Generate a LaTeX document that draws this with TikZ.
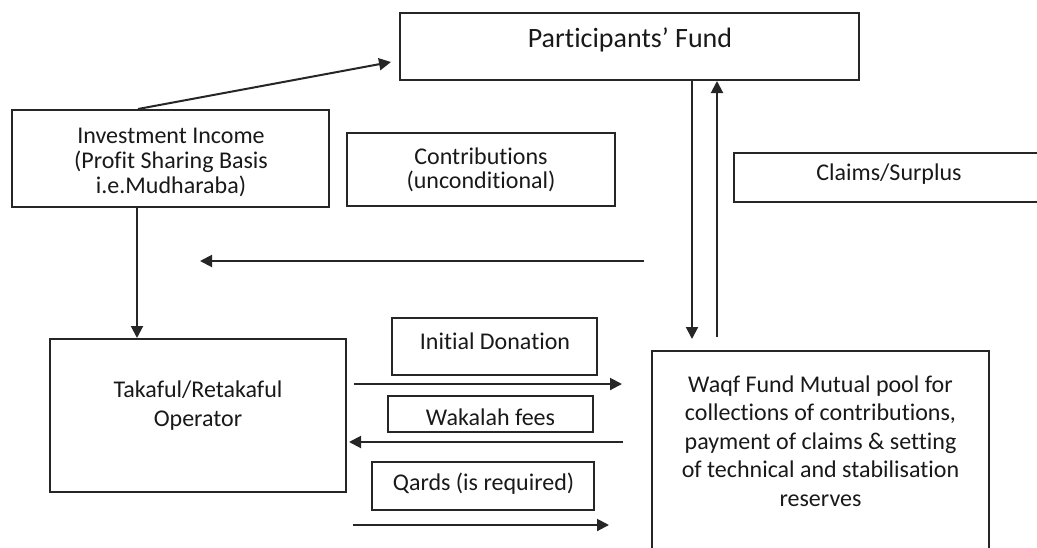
\documentclass[tikz,border=0pt]{standalone}
\usepackage{fontspec}
\setmainfont{Carlito}[Ligatures={NoCommon}]
\usetikzlibrary{arrows.meta,calc}
\begin{document}
\begin{tikzpicture}[x=1pt,y=-1pt,
  box/.style={draw=black!85, line width=2pt, rectangle, inner sep=0pt},
  txt/.style={font=\fontsize{24}{29}\selectfont, text=black!90, align=center, inner sep=0pt},
  arr/.style={draw=black!85, line width=2pt, -{Triangle[length=12pt,width=12pt]}},
]
\useasboundingbox (0,0) rectangle (1037,547);
\clip (0,0) rectangle (1037,547);

% boxes
\node[box, minimum width=459pt, minimum height=67pt] (pf) at (629.5,46.5) {};
\node[txt, font=\fontsize{28}{34}\selectfont] (pft) at (630,40) {Participants’ Fund};

\node[box, minimum width=317pt, minimum height=97pt] (inv) at (170.5,158.5) {};
\node[txt, font=\fontsize{24}{25}\selectfont] (invt) at (171,162) {Investment Income\\(Profit Sharing Basis\\i.e.Mudharaba)};

\node[box, minimum width=268pt, minimum height=73pt] (con) at (481,169.5) {};
\node[txt, font=\fontsize{24}{24}\selectfont] (cont) at (481,170) {Contributions\\(unconditional)};

\node[box, minimum width=310pt, minimum height=49pt] (cla) at (889,177.5) {};
\node[txt] (clat) at (889,174) {Claims/Surplus};

\node[box, minimum width=296pt, minimum height=153pt] (tak) at (198,415.5) {};
\node[txt, font=\fontsize{24}{29}\selectfont] (takt) at (198,405.5) {Takaful/Retakaful\\Operator};

\node[box, minimum width=205pt, minimum height=57pt] (ini) at (494.5,346.5) {};
\node[txt] (init) at (495,341) {Initial Donation};

\node[box, minimum width=205pt, minimum height=36pt] (wak) at (490.5,414) {};
\node[txt] (wakt) at (490.5,417.5) {Wakalah fees};

\node[box, minimum width=222pt, minimum height=48pt] (qar) at (483,486) {};
\node[txt] (qart) at (483.5,483.5) {Qards (is required)};

\node[box, minimum width=337pt, minimum height=219pt] (waq) at (820.5,460.5) {};
\node[txt, font=\fontsize{24}{28.5}\selectfont] (waqt) at (820.5,441) {Waqf Fund Mutual pool for\\collections of contributions,\\payment of claims \& setting\\of technical and stabilisation\\reserves};

% connectors
\draw[arr] ($(inv.north)+(-32.5,0)$) -- ($(pf.west)+(-8,15.5)$);
\draw[arr] ($(pf.south)+(62.5,0)$) -- ($(waq.north)+(-128.5,-11)$);
\draw[arr] ($(waq.north)+(-103.5,-13)$) -- ($(pf.south)+(87.5,0)$);
\coordinate (lfrom) at (644,261);
\coordinate (lto) at (200,261);
\draw[arr] (lfrom) -- (lto);
\draw[arr] ($(inv.south)+(-33.5,0)$) -- ($(tak.north)+(-61,0)$);
\draw[arr] ($(tak.east)+(7,-31.5)$) -- ($(waq.west)+(-29,-76.5)$);
\draw[arr] ($(waq.west)+(-28,-18.5)$) -- ($(tak.east)+(2,26.5)$);
\draw[arr] ($(tak.east)+(6,109.5)$) -- ($(waq.west)+(-42,64.5)$);
\end{tikzpicture}
\end{document}
